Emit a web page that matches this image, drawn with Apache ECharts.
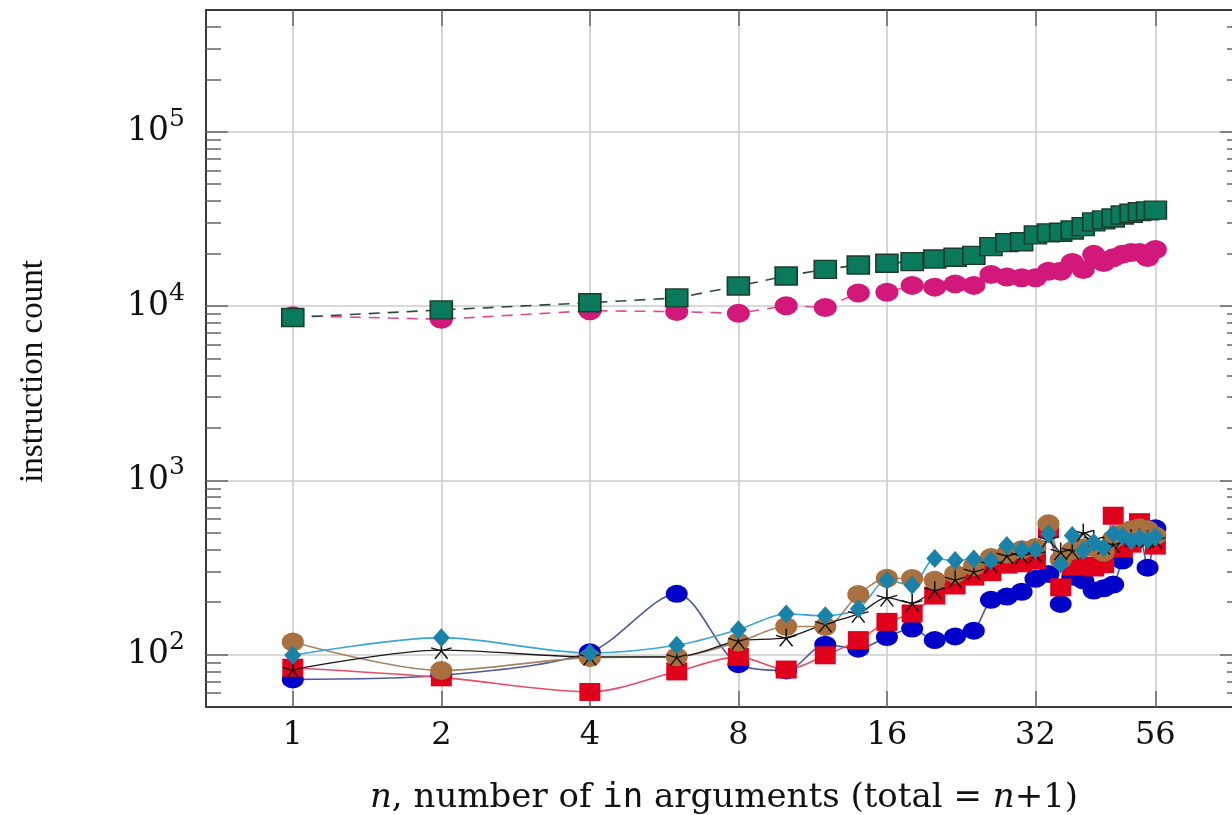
<!DOCTYPE html>
<html><head><meta charset="utf-8">
<script src="https://cdn.jsdelivr.net/npm/echarts@6/dist/echarts.min.js"></script>
<style>html,body{margin:0;padding:0;background:#fff}#c{width:1232px;height:815px}</style>
</head><body><div id="c"></div>
<script>
// ---- data ----
const nValues = [1,2,4,6,8,10,12,14,16,18,20,22,24,26,28,30,32,34,36,38,40,42,44,46,48,50,52,54,56];
const blueCircle = [72,76,103,223,88,81,114,108,126,141,121,127,137,206,215,229,272,290,195,280,266,233,240,252,346,440,470,315,530];
const redSquare = [84,74,61,80,97,82,99,121,154,172,218,249,280,297,328,334,346,525,243,320,324,316,330,626,406,433,575,480,422];
const brownOtimes = [118,81,96,97,118,145,145,221,274,273,267,290,320,361,378,399,412,563,350,395,410,412,386,460,493,520,535,520,480];
const blackStar = [82,106,97,97,120,125,150,171,212,198,234,270,300,330,370,370,378,460,390,395,500,460,420,430,460,465,470,460,455];
const tealDiamond = [99,125,102,113,139,171,167,183,266,250,356,346,354,346,422,399,399,494,331,482,395,440,410,494,480,450,465,455,475];
const magentaCircle = [8800,8400,9400,9290,9080,10050,9820,11890,12000,13140,12840,13400,13140,15180,14680,14540,14540,15850,15850,17790,16200,19800,17800,18900,19800,20300,20300,19000,21100];
const greenSquare = [8600,9500,10450,11130,13030,14870,16250,17200,17600,17980,18620,19050,19550,21920,23100,23400,25600,26300,26500,27300,28560,30400,31200,32000,33300,34100,34800,35200,35500];
const xTickValues = [1,2,4,8,16,32,56];
const yTickValues = [100,1000,10000,100000];
const yMinorValues = [60,70,80,90,200,300,400,500,600,700,800,900,2000,3000,4000,5000,6000,7000,8000,9000,20000,30000,40000,50000,60000,70000,80000,90000,200000,300000,400000];

const pair = arr => nValues.map((n,i)=>[n, arr[i]]);
const SERIF = '"Liberation Serif","DejaVu Serif",serif';
const WSERIF = '"DejaVu Serif","Liberation Serif",serif';
const MONO = '"DejaVu Sans Mono","Liberation Mono",monospace';
const STAR = 'path://M-0.07,0 L0.07,0 L0.07,-1 L-0.07,-1 Z M0.0216,0.0666 L0.9726,-0.2424 L0.9294,-0.3756 L-0.0216,-0.0666 Z M0.0216,-0.0666 L-0.9294,-0.3756 L-0.9726,-0.2424 L-0.0216,0.0666 Z M-0.0566,-0.0412 L-0.6446,0.7678 L-0.5314,0.8502 L0.0566,0.0412 Z M-0.0566,0.0412 L0.5314,0.8502 L0.6446,0.7678 L0.0566,-0.0412 Z';
const XMARK = 'path://M-0.78,-0.68 L-0.68,-0.78 L0.78,0.68 L0.68,0.78 Z M0.68,-0.78 L0.78,-0.68 L-0.68,0.78 L-0.78,0.68 Z';

const X_MIN = 0.667, X_MAX = 83.9, Y_MIN = 50, Y_MAX = 500000;
const frame = {color:'#3a3a3a', width:2};

function xAxisDef(pos, labels){
  return {
    type:'log', logBase:2, min:X_MIN, max:X_MAX, position:pos, gridIndex:0,
    axisLine:{show:true, onZero:false, lineStyle:frame},
    axisTick:{show:true, inside:true, length:16, customValues:xTickValues, lineStyle:{color:'#666', width:1.5}},
    axisLabel: labels ? {show:true, customValues:xTickValues, fontFamily:WSERIF, fontSize:32, color:'#111', margin:13, formatter: v => String(Math.round(v))} : {show:false},
    splitLine: labels ? {show:true, lineStyle:{color:'#cdcdcd', width:1.6}} : {show:false},
    minorTick:{show:false}, minorSplitLine:{show:false}
  };
}
function yAxisDef(pos, major, labels){
  const o = {
    type:'log', logBase:10, min:Y_MIN, max:Y_MAX, position:pos, gridIndex:0,
    axisLine: major ? {show:true, onZero:false, lineStyle:frame} : {show:false},
    axisTick:{show:true, inside:true, length: major?22:15, customValues: major?yTickValues:yMinorValues, lineStyle:{color:'#666', width:1.5}},
    axisLabel:{show:false},
    splitLine:{show:false},
    minorTick:{show:false}, minorSplitLine:{show:false}
  };
  if (labels){
    o.axisLabel = {show:true, customValues:yTickValues, margin:21, color:'#111',
      formatter: v => '{b|10}{s|' + Math.round(Math.log10(v)) + '}',
      rich:{ b:{fontFamily:WSERIF, fontSize:33, lineHeight:50, color:'#111'},
             s:{fontFamily:WSERIF, fontSize:25, lineHeight:24, verticalAlign:'top', color:'#111'} } };
    o.splitLine = {show:true, lineStyle:{color:'#cdcdcd', width:1.6}};
    o.name = 'instruction count';
    o.nameLocation = 'middle';
    o.nameGap = 156;
    o.nameRotate = 90;
    o.nameTextStyle = {fontFamily:SERIF, fontSize:33, color:'#111', padding:[0,26,0,0]};
  }
  return o;
}

const xMain = xAxisDef('bottom', true);
xMain.name = '{i|n}{r|, number of }{m|in}{r| arguments (total = }{i|n}{r|+1)}';
xMain.nameLocation = 'middle';
xMain.nameGap = 74;
xMain.nameTextStyle = {fontFamily:WSERIF, fontSize:34, color:'#111', rich:{
  i:{fontFamily:WSERIF, fontStyle:'italic', fontSize:34, color:'#111'},
  r:{fontFamily:WSERIF, fontSize:34, color:'#111'},
  m:{fontFamily:MONO, fontSize:34, color:'#111'}
}};

function lineSeries(name, arr, opt){
  return Object.assign({
    name, type:'line', data:pair(arr), xAxisIndex:0, yAxisIndex:0,
    showAllSymbol:true, smooth:0.3, animation:false
  }, opt);
}

const series = [
  lineSeries('blue', blueCircle, {symbol:'circle', symbolSize:[22,18],
    itemStyle:{color:'#0000c8'}, lineStyle:{color:'#4f5a98', width:1.6}}),
  lineSeries('red', redSquare, {symbol:'rect', symbolSize:[21,18],
    itemStyle:{color:'#e0001c'}, lineStyle:{color:'#ea4a66', width:1.6}}),
  lineSeries('brown', brownOtimes, {symbol:'circle', symbolSize:[22,19],
    itemStyle:{color:'#a8703e'}, lineStyle:{color:'#a5845f', width:1.6}}),
  {name:'brownX', type:'scatter', data:pair(brownOtimes), symbol:XMARK, symbolSize:[14,12],
    itemStyle:{color:'#6a4526'}, silent:true, animation:false, xAxisIndex:0, yAxisIndex:0},
  lineSeries('black', blackStar, {symbol:STAR, symbolSize:[21,18], symbolKeepAspect:false,
    itemStyle:{color:'#111'}, lineStyle:{color:'#1a1a1a', width:1.3}}),
  lineSeries('teal', tealDiamond, {symbol:'diamond', symbolSize:[17,19],
    itemStyle:{color:'#1a82a8'}, lineStyle:{color:'#3aa6d4', width:1.6}}),
  lineSeries('magenta', magentaCircle, {symbol:'circle', symbolSize:[23,19], smooth:false,
    itemStyle:{color:'#d2187a'}, lineStyle:{color:'#e04a92', width:1.6, type:[11,8]}}),
  lineSeries('green', greenSquare, {symbol:'rect', symbolSize:[22,18], smooth:false,
    itemStyle:{color:'#0b7a5c', borderColor:'#1b3c2c', borderWidth:1.5}, lineStyle:{color:'#2d4a3c', width:1.6, type:[11,8]}})
];

const chart = echarts.init(document.getElementById('c'), null, {renderer:'canvas'});
chart.setOption({
  animation:false,
  backgroundColor:'#ffffff',
  grid:{left:206, top:10, width:1036, height:697, containLabel:false, outerBoundsMode:'none'},
  xAxis:[xMain, xAxisDef('top', false)],
  yAxis:[yAxisDef('left', true, true), yAxisDef('left', false, false), yAxisDef('right', true, false), yAxisDef('right', false, false)],
  series
});
</script></body></html>
